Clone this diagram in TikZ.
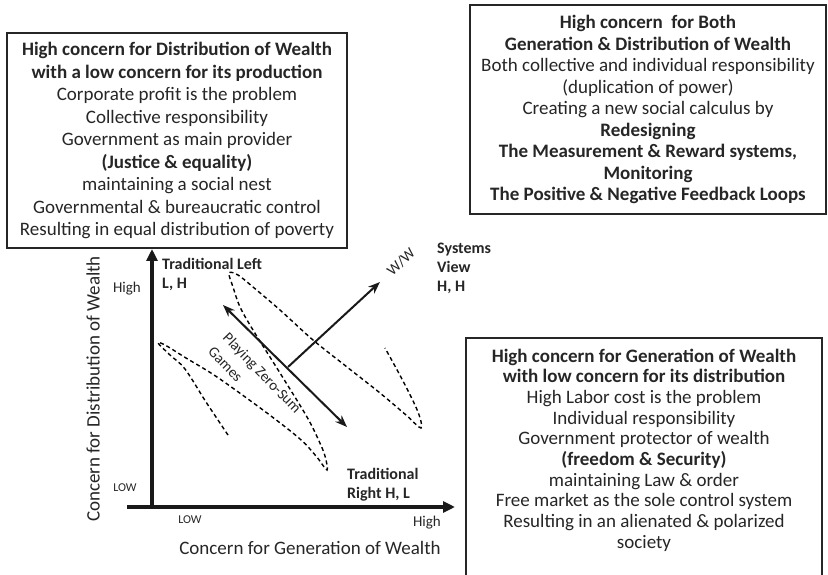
\documentclass[tikz,border=0pt]{standalone}
\usepackage{fontspec}
\setmainfont{Carlito}
\usetikzlibrary{shapes, arrows.meta, positioning}
\tikzstyle{every node}=[font=\fontsize{19}{22.5}\selectfont, text=black!85]
\tikzstyle{quadbox}=[draw=black!85, line width=1.5pt, align=center, inner sep=0pt]
\tikzstyle{axis}=[line width=3.5pt, black!90, -{Triangle[length=12pt,width=11pt]}]
\tikzstyle{move}=[line width=2pt, black!90, -{Stealth[length=12pt,width=9pt]}]
\tikzstyle{tag}=[font=\fontsize{16}{19}\selectfont\bfseries, align=left, inner sep=0pt, anchor=west]
\tikzstyle{tick}=[font=\fontsize{15}{18}\selectfont, inner sep=0pt]
\tikzstyle{lowtick}=[font=\fontsize{12}{14}\selectfont, inner sep=0pt]
\tikzstyle{zigzag}=[dashed, dash pattern=on 4pt off 3pt, line width=1.4pt, black]

\begin{document}
\begin{tikzpicture}[x=1pt, y=1pt]
  \clip (0,0) rectangle (828,574);
  \fill[white] (0,0) rectangle (828,574);

  % the three quadrant boxes
  \node[quadbox, minimum width=340pt, minimum height=215pt] (left) at (177,433.5) {%
    \textbf{High concern for Distribution of Wealth}\\
    \textbf{with a low concern for its production}\\
    Corporate profit is the problem\\
    Collective responsibility\\
    Government as main provider\\
    \textbf{(Justice \& equality)}\\
    maintaining a social nest\\
    Governmental \& bureaucratic control\\
    Resulting in equal distribution of poverty};
  \node[quadbox, minimum width=356pt, minimum height=209pt,
        font=\fontsize{19}{21.5}\selectfont] (both) at (648,464.5) {%
    \textbf{High concern\ \ for Both}\\
    \textbf{Generation \& Distribution of Wealth}\\
    Both collective and individual responsibility\\
    (duplication of power)\\
    Creating a new social calculus by\\
    \textbf{Redesigning}\\
    \textbf{The Measurement \& Reward systems,}\\
    \textbf{Monitoring}\\
    \textbf{The Positive \& Negative Feedback Loops}};
  \node[align=center, inner sep=0pt, font=\fontsize{19}{20.7}\selectfont] (right) at (644,124) {%
    \textbf{High concern for Generation of Wealth}\\
    \textbf{with low concern for its distribution}\\
    High Labor cost is the problem\\
    Individual responsibility\\
    Government protector of wealth\\
    \textbf{(freedom \& Security)}\\
    maintaining Law \& order\\
    Free market as the sole control system\\
    Resulting in an alienated \& polarized\\
    society};
  \draw[draw=black!85, line width=1.5pt] (466,236) rectangle (822,-20);

  % axes
  \coordinate (origin) at (152,67);
  \coordinate (xstart) at (127,67);
  \coordinate (xend) at (455,67);
  \coordinate (yend) at (152,325);
  \draw[axis] (xstart) -- (xend);
  \draw[axis] (origin) -- (yend);

  \node[tick] (yhigh) at (127,285) {High};
  \node[lowtick] (ylow) at (125,86) {LOW};
  \node[lowtick] (xlow) at (190,54) {LOW};
  \node[tick] (xhigh) at (427,51) {High};
  \node[] (xtitle) at (310,26) {Concern for Generation of Wealth};
  \node[rotate=90] (ytitle) at (93,185) {Concern for Distribution of Wealth};

  % positions
  \node[tag] (tleft) at (162,300) {Traditional Left\\L, H};
  \node[tag] (tright) at (347,89) {Traditional\\Right H, L};
  \node[tag] (sysview) at (437,306) {Systems\\View\\H, H};

  % dashed loops
  \draw[zigzag] plot[smooth, tension=0.55] coordinates {
    (228,139) (206,172) (185,205) (170,219) (158,231) (165,229)
    (186,216) (217,197) (267,161) (300,135) (316,118) (327,104)
    (325,118) (319,133) (307,157) (280,201) (253,244) (240,267)
    (233,287) (229,301) (238,299) (253,287) (280,264) (313,234)
    (347,207) (380,181) (406,159) (421,146) (418,162) (403,193)
    (385,226)};

  % moves
  \coordinate (zsa) at (223,269);
  \coordinate (zsb) at (347,147);
  \coordinate (wwa) at (288,207);
  \coordinate (wwb) at (380,292);
  \draw[move, {Stealth[length=12pt,width=9pt]}-{Stealth[length=12pt,width=9pt]}] (zsa) -- (zsb);
  \draw[move] (wwa) -- (wwb);
  \node[rotate=44, font=\fontsize{15}{17}\selectfont] (ww) at (401,312) {W/W};
  \node[rotate=-46, align=left, font=\fontsize{15}{20.5}\selectfont] (zerosum) at (255,194) {Playing Zero-Sum\\Games};
\end{tikzpicture}
\end{document}
